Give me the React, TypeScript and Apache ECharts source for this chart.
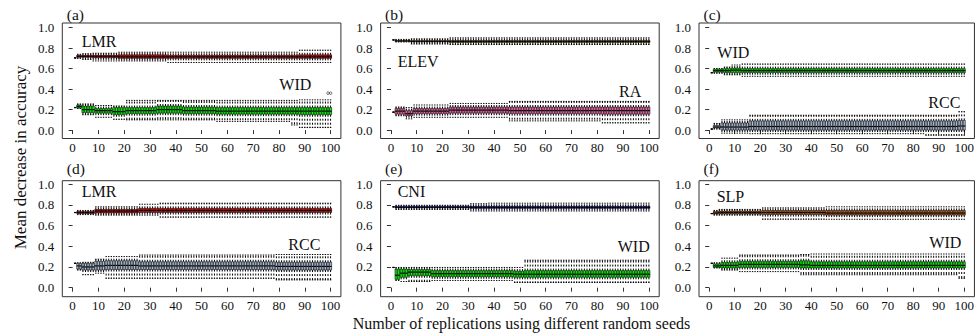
import React, { useEffect, useRef } from "react";
import * as echarts from "echarts";

// x positions: replication number 1..100
const replications: number[] = Array.from({ length: 100 }, (_, i) => i + 1);
const xTicks = [0, 10, 20, 30, 40, 50, 60, 70, 80, 90, 100];
const yTicks = [0, 0.2, 0.4, 0.6, 0.8, 1.0];

// Each run: [first replication, min, Q1, median, Q3, max] (applies until next run)
const a_LMR = [
  [1, 0.705, 0.705, 0.705, 0.705, 0.705],
  [2, 0.70, 0.71, 0.72, 0.73, 0.74],
  [4, 0.69, 0.71, 0.72, 0.73, 0.745],
  [8, 0.675, 0.705, 0.72, 0.73, 0.75],
  [18, 0.675, 0.70, 0.715, 0.735, 0.76],
  [37, 0.66, 0.70, 0.715, 0.73, 0.76],
  [88, 0.66, 0.70, 0.715, 0.735, 0.78],
];
const a_WID = [
  [1, 0.22, 0.22, 0.22, 0.22, 0.22],
  [2, 0.21, 0.215, 0.23, 0.245, 0.255],
  [4, 0.15, 0.17, 0.20, 0.235, 0.255],
  [9, 0.125, 0.165, 0.19, 0.21, 0.24],
  [16, 0.105, 0.15, 0.18, 0.22, 0.235],
  [21, 0.10, 0.16, 0.19, 0.22, 0.29],
  [33, 0.10, 0.165, 0.20, 0.235, 0.29],
  [43, 0.10, 0.16, 0.19, 0.225, 0.29],
  [56, 0.085, 0.155, 0.185, 0.22, 0.29],
  [85, 0.05, 0.155, 0.185, 0.22, 0.29],
  [88, 0.025, 0.15, 0.185, 0.22, 0.295],
];
const a_WID_outliers = [[99, 0.36], [100, 0.36]];

const b_ELEV = [
  [1, 0.88, 0.88, 0.88, 0.88, 0.88],
  [2, 0.86, 0.865, 0.87, 0.875, 0.885],
  [8, 0.84, 0.86, 0.865, 0.875, 0.89],
  [23, 0.835, 0.855, 0.865, 0.875, 0.90],
];
const b_RA = [
  [1, 0.175, 0.175, 0.175, 0.175, 0.175],
  [2, 0.14, 0.155, 0.185, 0.21, 0.225],
  [6, 0.11, 0.14, 0.16, 0.19, 0.22],
  [9, 0.125, 0.16, 0.185, 0.21, 0.245],
  [23, 0.125, 0.165, 0.195, 0.225, 0.26],
  [46, 0.09, 0.16, 0.19, 0.225, 0.28],
  [82, 0.07, 0.155, 0.19, 0.225, 0.28],
];

const c_WID = [
  [1, 0.56, 0.56, 0.56, 0.56, 0.56],
  [2, 0.555, 0.565, 0.58, 0.595, 0.60],
  [6, 0.54, 0.56, 0.58, 0.60, 0.615],
  [9, 0.54, 0.56, 0.585, 0.605, 0.635],
  [13, 0.525, 0.56, 0.58, 0.60, 0.645],
];
const c_RCC = [
  [1, 0.01, 0.01, 0.01, 0.01, 0.01],
  [2, 0.01, 0.02, 0.03, 0.045, 0.065],
  [5, -0.03, 0.0, 0.03, 0.07, 0.10],
  [16, -0.035, 0.0, 0.035, 0.09, 0.145],
  [85, -0.05, 0.0, 0.035, 0.09, 0.145],
  [98, -0.05, 0.0, 0.04, 0.095, 0.18],
];

const d_LMR = [
  [1, 0.725, 0.725, 0.725, 0.725, 0.725],
  [2, 0.705, 0.715, 0.725, 0.735, 0.745],
  [9, 0.70, 0.72, 0.74, 0.755, 0.78],
  [26, 0.70, 0.725, 0.745, 0.765, 0.805],
  [34, 0.68, 0.725, 0.745, 0.765, 0.815],
];
const d_RCC = [
  [1, 0.235, 0.235, 0.235, 0.235, 0.235],
  [2, 0.17, 0.18, 0.21, 0.235, 0.24],
  [4, 0.125, 0.17, 0.20, 0.235, 0.245],
  [9, 0.14, 0.17, 0.21, 0.255, 0.275],
  [13, 0.09, 0.175, 0.215, 0.26, 0.30],
  [26, 0.09, 0.175, 0.21, 0.25, 0.315],
  [79, 0.075, 0.17, 0.205, 0.245, 0.32],
];

const e_CNI = [
  [1, 0.78, 0.78, 0.78, 0.78, 0.78],
  [2, 0.755, 0.77, 0.775, 0.785, 0.795],
  [31, 0.74, 0.765, 0.775, 0.785, 0.81],
  [38, 0.74, 0.765, 0.775, 0.785, 0.815],
];
const e_WID = [
  [1, 0.195, 0.195, 0.195, 0.195, 0.195],
  [2, 0.07, 0.08, 0.12, 0.18, 0.195],
  [4, 0.06, 0.10, 0.14, 0.18, 0.195],
  [7, 0.06, 0.115, 0.15, 0.175, 0.195],
  [16, 0.07, 0.105, 0.135, 0.165, 0.195],
  [48, 0.05, 0.10, 0.13, 0.16, 0.195],
  [52, 0.05, 0.10, 0.13, 0.165, 0.265],
];

const f_SLP = [
  [1, 0.715, 0.715, 0.715, 0.715, 0.715],
  [2, 0.70, 0.71, 0.72, 0.735, 0.745],
  [4, 0.70, 0.71, 0.725, 0.74, 0.755],
  [21, 0.66, 0.705, 0.725, 0.745, 0.77],
  [46, 0.66, 0.70, 0.72, 0.745, 0.78],
];
const f_WID = [
  [1, 0.235, 0.235, 0.235, 0.235, 0.235],
  [2, 0.19, 0.195, 0.21, 0.23, 0.24],
  [5, 0.17, 0.19, 0.215, 0.245, 0.285],
  [12, 0.155, 0.195, 0.225, 0.255, 0.315],
  [36, 0.125, 0.19, 0.22, 0.26, 0.32],
  [40, 0.125, 0.19, 0.215, 0.25, 0.325],
  [98, 0.09, 0.19, 0.215, 0.25, 0.325],
];

const panelLetters = ["(a)", "(b)", "(c)", "(d)", "(e)", "(f)"];
const seriesNames = [
  ["LMR", "WID"],
  ["ELEV", "RA"],
  ["WID", "RCC"],
  ["LMR", "RCC"],
  ["CNI", "WID"],
  ["SLP", "WID"],
];
const seriesRuns = [
  [a_LMR, a_WID],
  [b_ELEV, b_RA],
  [c_WID, c_RCC],
  [d_LMR, d_RCC],
  [e_CNI, e_WID],
  [f_SLP, f_WID],
];
const colorOf: Record<string, string> = {
  LMR: "#ff0000",
  WID: "#00ff00",
  ELEV: "#b8860b",
  RA: "#ff69b4",
  RCC: "#b0c4de",
  CNI: "#0000ff",
  SLP: "#d2691e",
};

const FONT = "Liberation Serif, Times New Roman, Times, DejaVu Serif, serif";

function expandRuns(runs: number[][]) {
  return replications.map((x) => {
    let r = runs[0];
    for (const run of runs) if (run[0] <= x) r = run;
    return [x, r[1], r[2], r[3], r[4], r[5]];
  });
}

function makeRender(color: string) {
  return (params: any, api: any) => {
    const x = api.value(0);
    const pMin = api.coord([x, api.value(1)]);
    const pQ1 = api.coord([x, api.value(2)]);
    const pMed = api.coord([x, api.value(3)]);
    const pQ3 = api.coord([x, api.value(4)]);
    const pMax = api.coord([x, api.value(5)]);
    const w = api.size([0.8, 0])[0];
    const cx = pMin[0];
    const hw = w / 2;
    const sw = w / 3;
    const dashStyle = { stroke: "#000", lineWidth: 1, lineDash: [2, 2] };
    const solid = { stroke: "#000", lineWidth: 1 };
    return {
      type: "group",
      children: [
        { type: "line", shape: { x1: cx, y1: pQ1[1], x2: cx, y2: pMin[1] }, style: dashStyle },
        { type: "line", shape: { x1: cx, y1: pQ3[1], x2: cx, y2: pMax[1] }, style: dashStyle },
        { type: "line", shape: { x1: cx - sw, y1: pMin[1], x2: cx + sw, y2: pMin[1] }, style: solid },
        { type: "line", shape: { x1: cx - sw, y1: pMax[1], x2: cx + sw, y2: pMax[1] }, style: solid },
        {
          type: "rect",
          shape: { x: cx - hw, y: pQ3[1], width: w, height: Math.max(pQ1[1] - pQ3[1], 0) },
          style: { fill: color, stroke: "#000", lineWidth: 0.6 },
        },
        { type: "line", shape: { x1: cx - hw, y1: pMed[1], x2: cx + hw, y2: pMed[1] }, style: { stroke: "#000", lineWidth: 1.2 } },
      ],
    };
  };
}

export default function App() {
  const ref = useRef<HTMLDivElement>(null);
  useEffect(() => {
    if (!ref.current) return;
    const chart = echarts.init(ref.current, null, { renderer: "svg" });
    const lefts = [62.3, 380.6, 699];
    const rows = [
      { top: 23, height: 115.5, min: -0.082, max: 1.045 },
      { top: 180.7, height: 116, min: -0.087, max: 1.032 },
    ];
    const grids: any[] = [];
    const xAxes: any[] = [];
    const yAxes: any[] = [];
    const series: any[] = [];
    for (let i = 0; i < 6; i++) {
      const row = rows[Math.floor(i / 3)];
      const col = i % 3;
      grids.push({
        left: lefts[col],
        top: row.top,
        width: 278.6,
        height: row.height,
        show: true,
        borderColor: "#333",
        borderWidth: 1,
        backgroundColor: "transparent",
      });
      xAxes.push({
        gridIndex: i,
        type: "value",
        min: -4,
        max: 104,
        axisLine: { show: false },
        axisTick: { show: true, length: 4, lineStyle: { color: "#333" }, customValues: xTicks },
        axisLabel: { customValues: xTicks, fontFamily: FONT, fontSize: 13, color: "#111", margin: 2, lineHeight: 13 },
        splitLine: { show: false },
      });
      yAxes.push({
        gridIndex: i,
        type: "value",
        min: row.min,
        max: row.max,
        axisLine: { show: false },
        axisTick: { show: true, length: 4, lineStyle: { color: "#333" }, customValues: yTicks },
        axisLabel: {
          customValues: yTicks,
          fontFamily: FONT,
          fontSize: 13,
          color: "#111",
          margin: 8,
          formatter: (v: number) => v.toFixed(1),
        },
        splitLine: { show: false },
      });
      for (let s = 0; s < 2; s++) {
        const name = seriesNames[i][s];
        series.push({
          type: "custom",
          name: name + "_" + i,
          xAxisIndex: i,
          yAxisIndex: i,
          renderItem: makeRender(colorOf[name]),
          encode: { x: 0, y: [1, 2, 3, 4, 5] },
          data: expandRuns(seriesRuns[i][s] as number[][]),
          silent: true,
        });
      }
    }
    series.push({
      type: "scatter",
      xAxisIndex: 0,
      yAxisIndex: 0,
      data: a_WID_outliers,
      symbol: "circle",
      symbolSize: 2.5,
      itemStyle: { color: "transparent", borderColor: "#111", borderWidth: 0.8 },
      silent: true,
    });

    const labelPos = [
      [[81.7, 41.3], [279.3, 84.7]],
      [[397.7, 61.7], [619, 91.3]],
      [[717.3, 52.5], [928.3, 102.8]],
      [[81.7, 191.7], [288.3, 244.5]],
      [[397.7, 191.7], [617.7, 246.3]],
      [[716.7, 196.7], [929.3, 242]],
    ];
    const graphics: any[] = [];
    for (let i = 0; i < 6; i++) {
      const col = i % 3;
      const rowIdx = Math.floor(i / 3);
      graphics.push({
        type: "text",
        x: lefts[col] + 4.5,
        y: rowIdx === 0 ? 14 : 168,
        style: { text: panelLetters[i], fontFamily: FONT, fontSize: 15.5, fill: "#111", verticalAlign: "middle", align: "left" },
      });
      for (let s = 0; s < 2; s++) {
        graphics.push({
          type: "text",
          x: labelPos[i][s][0],
          y: labelPos[i][s][1],
          style: { text: seriesNames[i][s], fontFamily: FONT, fontSize: 16, fill: "#111", verticalAlign: "middle", align: "left" },
        });
      }
    }
    graphics.push({
      type: "text",
      x: 521.5,
      y: 323.5,
      style: {
        text: "Number of replications using different random seeds",
        fontFamily: FONT,
        fontSize: 16,
        lineHeight: 15,
        fill: "#111",
        align: "center",
        verticalAlign: "middle",
      },
    });
    graphics.push({
      type: "text",
      x: 20,
      y: 157.5,
      rotation: Math.PI / 2,
      style: {
        text: "Mean decrease in accuracy",
        fontFamily: FONT,
        fontSize: 17,
        fill: "#111",
        align: "center",
        verticalAlign: "middle",
      },
    });

    chart.setOption({
      animation: false,
      backgroundColor: "#ffffff",
      textStyle: { fontFamily: FONT },
      grid: grids,
      xAxis: xAxes,
      yAxis: yAxes,
      series,
      graphic: graphics,
    });
    return () => chart.dispose();
  }, []);
  return (
    <div
      ref={ref}
      style={{ position: "absolute", left: 0, top: 0, width: 977, height: 334 }}
    />
  );
}
